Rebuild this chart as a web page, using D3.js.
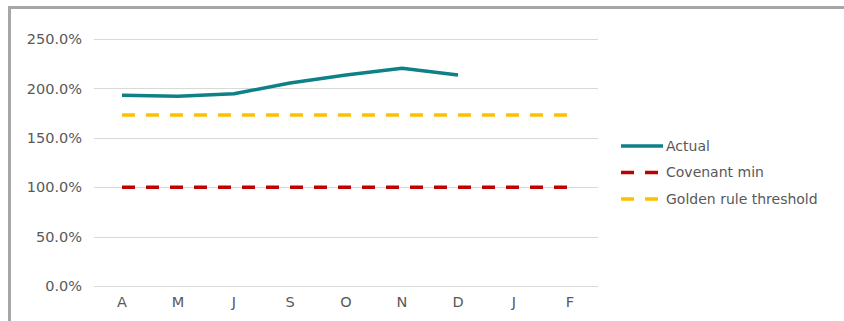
<!DOCTYPE html>
<html><head><meta charset="utf-8">
<script src="https://cdn.jsdelivr.net/npm/d3@7"></script>
<style>body{margin:0;background:#fff;}svg{display:block;}</style>
</head><body>
<svg id="chart" width="844" height="321"></svg>
<script>
const categories = ["A","M","J","S","O","N","D","J","F"];
const actual = [193, 192, 194.5, 205.5, 213.5, 220.5, 213.5, null, null];
const covenantMin = [100,100,100,100,100,100,100,100,100];
const goldenRule = [173,173,173,173,173,173,173,173,173];
const yTicks = [0, 50, 100, 150, 200, 250];
const seriesNames = ["Actual","Covenant min","Golden rule threshold"];

const svg = d3.select("#chart");
const font = "'DejaVu Sans', Verdana, sans-serif";
const textColor = "#595959";

// frame
svg.append("rect").attr("x", 9.5).attr("y", 7.5).attr("width", 900).attr("height", 400)
  .attr("fill", "none").attr("stroke", "#a6a6a6").attr("stroke-width", 3);

const plotLeft = 94, plotRight = 598, plotTop = 39, plotBottom = 286;
const x = d3.scaleBand().domain(d3.range(categories.length)).range([plotLeft, plotRight]);
const y = d3.scaleLinear().domain([0, 250]).range([plotBottom, plotTop]);

// gridlines
svg.append("g").selectAll("line").data(yTicks).join("line")
  .attr("x1", plotLeft).attr("x2", plotRight)
  .attr("y1", d => Math.round(y(d)) + 0.5).attr("y2", d => Math.round(y(d)) + 0.5)
  .attr("stroke", "#d9d9d9").attr("stroke-width", 1);

// y axis labels
const yAxis = d3.axisLeft(y).tickValues(yTicks).tickSize(0).tickPadding(0)
  .tickFormat(d => d3.format(".1f")(d) + "%");
const gy = svg.append("g").attr("transform", `translate(${plotLeft - 12},0)`).call(yAxis);
gy.select(".domain").remove();
gy.selectAll("text").attr("font-family", font).attr("font-size", 14.5).attr("fill", textColor);

// x axis labels
const xAxis = d3.axisBottom(x).tickSize(0).tickPadding(0).tickFormat(i => categories[i]);
const gx = svg.append("g").attr("transform", `translate(0,${plotBottom + 11})`).call(xAxis);
gx.select(".domain").remove();
gx.selectAll("text").attr("font-family", font).attr("font-size", 14.5).attr("fill", textColor);

const cx = i => x(i) + x.bandwidth() / 2;
const line = d3.line().defined(d => d != null).x((d, i) => cx(i)).y(d => y(d));

svg.append("path").datum(covenantMin).attr("d", line).attr("fill", "none")
  .attr("stroke", "#c00000").attr("stroke-width", 3.5).attr("stroke-dasharray", "13,11");
svg.append("path").datum(goldenRule).attr("d", line).attr("fill", "none")
  .attr("stroke", "#ffc000").attr("stroke-width", 3.5).attr("stroke-dasharray", "13,11");
svg.append("path").datum(actual).attr("d", line).attr("fill", "none")
  .attr("stroke", "#0e8088").attr("stroke-width", 3.5).attr("stroke-linejoin", "round");

// legend
const legend = [
  {name: seriesNames[0], color: "#0e8088", dash: null},
  {name: seriesNames[1], color: "#c00000", dash: "13,11"},
  {name: seriesNames[2], color: "#ffc000", dash: "13,11"}
];
const lg = svg.append("g").selectAll("g").data(legend).join("g")
  .attr("transform", (d, i) => `translate(621,${146 + i * 26.5})`);
lg.append("line").attr("x1", 0).attr("x2", 42).attr("y1", 0).attr("y2", 0)
  .attr("stroke", d => d.color).attr("stroke-width", 3.5)
  .attr("stroke-dasharray", d => d.dash);
lg.append("text").attr("x", 45).attr("y", 0).attr("dy", "0.35em")
  .attr("font-family", font).attr("font-size", 14).attr("fill", textColor)
  .text(d => d.name);
</script>
</body></html>
